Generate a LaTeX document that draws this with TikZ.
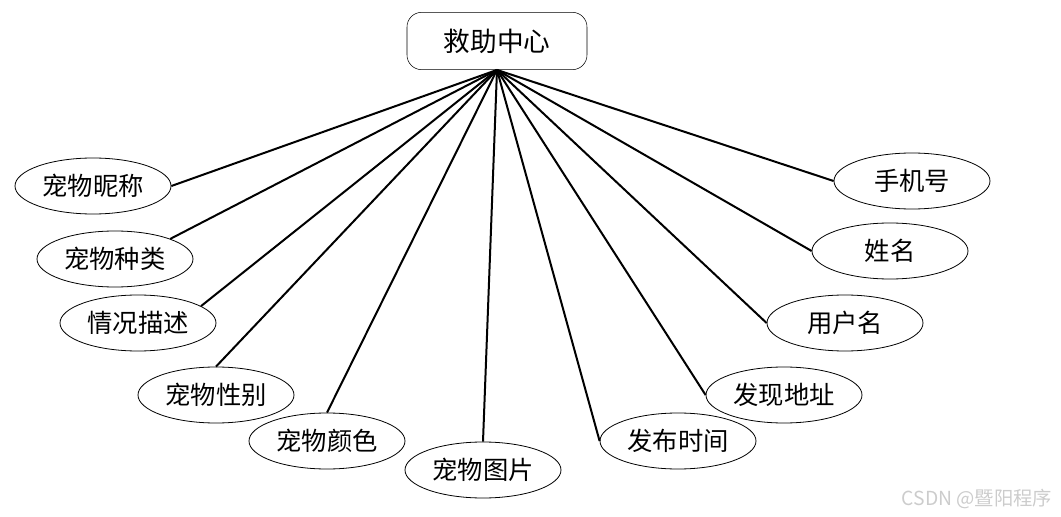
\documentclass[tikz,border=0pt]{standalone}
\usepackage{fontspec}
\setmainfont{Noto Sans CJK SC}
\usetikzlibrary{positioning}
\usetikzlibrary{shapes.geometric}
\begin{document}
\begin{tikzpicture}[x=0.75pt,y=-0.75pt]
		\tikzset{center/.style = {shape=rectangle,draw,rounded corners=11pt,minimum width=135pt,minimum height=43pt,font=\fontsize{20}{24}\selectfont}}
		\tikzset{attr/.style = {shape=ellipse,draw,line width=0.6pt,inner sep=0pt,minimum width=117pt,minimum height=42pt,font=\fontsize{19}{23}\selectfont}}
		\tikzset{edge/.style = {line width=1.5pt}}
		\useasboundingbox (0,0) rectangle (1061,517);
		% vertices
		\node[center] (rescue) at (497,41) {救助中心};
		
		\node[attr] (nick) at (93,186) {宠物昵称};
		\node[attr] (kind) at (115,259) {宠物种类};
		\node[attr] (desc) at (138,323) {情况描述};
		\node[attr] (sex) at (216,395) {宠物性别};
		\node[attr] (color) at (327,441) {宠物颜色};
		\node[attr] (photo) at (483,470) {宠物图片};
		\node[attr] (time) at (678,441) {发布时间};
		\node[attr] (addr) at (784,395) {发现地址};
		\node[attr] (user) at (845,323) {用户名};
		\node[attr] (name) at (890,251) {姓名};
		\node[attr] (phone) at (912,181) {手机号};
		
		\node[text=black!20,font=\fontsize{14.5}{17}\selectfont] (mark) at (977,499) {CSDN @暨阳程序};
		
		%edges
		\draw[edge] (rescue.south) to (nick.east);
		\draw[edge] (rescue.south) to (kind.20);
		\draw[edge] (rescue.south) to (desc.15);
		\draw[edge] (rescue.south) to (sex.north);
		\draw[edge] (rescue.south) to (color.north);
		\draw[edge] (rescue.south) to (photo.north);
		\draw[edge] (rescue.south) to (time.west);
		\draw[edge] (rescue.south) to (addr.west);
		\draw[edge] (rescue.south) to (user.west);
		\draw[edge] (rescue.south) to (name.west);
		\draw[edge] (rescue.south) to (phone.west);
		
\end{tikzpicture}
\end{document}
